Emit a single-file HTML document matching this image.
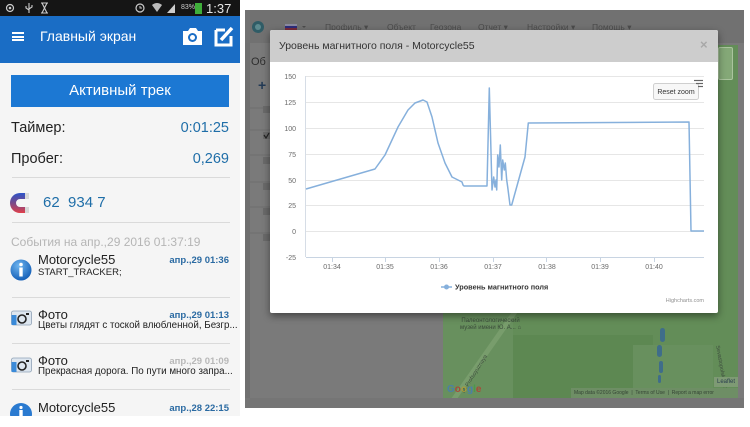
<!DOCTYPE html>
<html><head><meta charset="utf-8">
<style>
*{margin:0;padding:0;box-sizing:border-box}
html,body{width:750px;height:427px;overflow:hidden;background:#fff;font-family:"Liberation Sans","DejaVu Sans",sans-serif}
.a{position:absolute;white-space:nowrap}
.dv{position:absolute;left:12px;width:218px;height:1px;background:#dadada}
.nv{position:absolute;top:22px;font-size:8.5px;line-height:10px;color:#4b4b4b}
</style></head><body>

<!-- ============ PHONE ============ -->
<div class="a" style="left:0;top:0;width:240px;height:427px;background:#f5f5f5;overflow:hidden">
<div class="a" style="left:0;top:0;width:240px;height:16px;background:#151515"></div>
<svg class="a" style="left:0;top:0" width="240" height="16">
  <circle cx="10" cy="8" r="3.5" fill="none" stroke="#ccc" stroke-width="1.2"/><circle cx="10" cy="8" r="1.3" fill="#ccc"/>
  <path d="M29 3 V13 M26 6 V8 L29 10 M32 5 V7 L29 9" stroke="#ccc" stroke-width="1.1" fill="none"/>
  <path d="M41 3 H48 M41 13 H48 M42 3 L47 13 M47 3 L42 13" stroke="#ccc" stroke-width="1.1" fill="none"/>
  <circle cx="140" cy="8" r="4" fill="none" stroke="#ccc" stroke-width="1.2"/><path d="M140 6 V8 H142" stroke="#ccc" stroke-width="1"/>
  <path d="M152 5 Q157 1 162 5 L157 12 Z" fill="#bbb"/>
  <path d="M167 13 L175 4 V13 Z" fill="#ccc"/>
  <rect x="195" y="3" width="7" height="11" fill="#3fae3a"/>
</svg>
<div class="a" style="left:181px;top:4px;font-size:7px;line-height:8px;color:#ccc">83%</div>
<div class="a" style="left:206px;top:1px;font-size:13px;line-height:15px;color:#e6e6e6">1:37</div>

<div class="a" style="left:0;top:16px;width:240px;height:47px;background:#1a6dc5"></div>
<div class="a" style="left:12px;top:32px;width:12px;height:2px;background:#fff"></div>
<div class="a" style="left:12px;top:35.5px;width:12px;height:2px;background:#fff"></div>
<div class="a" style="left:12px;top:39px;width:12px;height:2px;background:#fff"></div>
<div class="a" style="left:40px;top:28px;font-size:14px;line-height:17px;color:#fff">Главный экран</div>
<svg class="a" style="left:180px;top:24px" width="56" height="24">
  <path d="M3 7 H8 L10 4 H16 L18 7 H22 V21 H3 Z" fill="#fff"/>
  <circle cx="12.5" cy="13.5" r="4.5" fill="#1a6dc5"/><circle cx="12.5" cy="13.5" r="2.5" fill="#fff"/>
  <path d="M36 6 H45 M36 6 V21 H51 V12" stroke="#fff" stroke-width="3" fill="none"/>
  <path d="M41 16 L52 4" stroke="#fff" stroke-width="3.5"/>
</svg>

<div class="a" style="left:11px;top:75px;width:218px;height:32px;background:#1c78d3"></div>
<div class="a" style="left:11px;top:82px;width:218px;text-align:center;font-size:15px;line-height:18px;color:#fff">Активный трек</div>

<div class="a" style="left:11px;top:119px;font-size:14.5px;line-height:18px;color:#222">Таймер:</div>
<div class="a" style="right:11px;top:119px;font-size:14.5px;line-height:18px;color:#1f6ea8">0:01:25</div>
<div class="a" style="left:11px;top:150px;font-size:14.5px;line-height:18px;color:#222">Пробег:</div>
<div class="a" style="right:11px;top:150px;font-size:14.5px;line-height:18px;color:#1f6ea8">0,269</div>
<div class="dv" style="top:177px"></div>
<svg class="a" style="left:8px;top:191px" width="26" height="24">
  <defs><linearGradient id="mg" x1="0" y1="0" x2="0" y2="1"><stop offset="0" stop-color="#2d54c8"/><stop offset="0.5" stop-color="#7a4a8a"/><stop offset="1" stop-color="#e0404a"/></linearGradient></defs>
  <path d="M20 2 H12 A10 10 0 0 0 12 22 H20 V16 H12 A4 4 0 0 1 12 8 H20 Z" fill="url(#mg)"/>
  <rect x="17" y="2" width="4" height="6" fill="#d8d8d8"/><rect x="17" y="16" width="4" height="6" fill="#d8d8d8"/>
</svg>
<div class="a" style="left:43px;top:194px;font-size:15px;line-height:18px;color:#1f6ea8">62&nbsp;&nbsp;934 7</div>
<div class="dv" style="top:222px"></div>
<div class="a" style="left:11px;top:235px;font-size:12px;line-height:14px;color:#b5b5b5">События на апр.,29 2016 01:37:19</div>

<!-- item 1 -->
<svg class="a" style="left:9px;top:258px" width="24" height="24"><defs><radialGradient id="ig" cx="0.4" cy="0.3" r="0.7"><stop offset="0" stop-color="#6fb6f0"/><stop offset="1" stop-color="#1560b8"/></radialGradient></defs><circle cx="12" cy="12" r="10.5" fill="url(#ig)"/><circle cx="12" cy="6.5" r="1.8" fill="#fff"/><rect x="10.3" y="9.5" width="3.4" height="9" fill="#fff"/></svg>
<div class="a" style="left:38px;top:252px;font-size:13px;line-height:16px;color:#222">Motorcycle55</div>
<div class="a" style="left:38px;top:267px;font-size:9.5px;line-height:12px;color:#222">START_TRACKER;</div>
<div class="a" style="right:11px;top:255px;font-size:9.5px;line-height:11px;color:#2a6aa2;font-weight:bold">апр.,29 01:36</div>
<div class="dv" style="top:297px"></div>
<!-- item 2 -->
<svg class="a" style="left:11px;top:310px" width="22" height="16"><rect x="0.5" y="1" width="20" height="14" rx="2" fill="#dde6ef" stroke="#8fa2b6" stroke-width="0.8"/><rect x="0.5" y="5" width="5" height="10" fill="#3a8ad8"/><circle cx="11" cy="9" r="4" fill="none" stroke="#222" stroke-width="1.6"/><rect x="15" y="3" width="3" height="2" fill="#222"/></svg>
<div class="a" style="left:38px;top:307px;font-size:13px;line-height:16px;color:#222">Фото</div>
<div class="a" style="left:38px;top:320px;font-size:9.8px;line-height:12px;color:#222">Цветы глядят с тоской влюбленной, Безгр...</div>
<div class="a" style="right:11px;top:310px;font-size:9.5px;line-height:11px;color:#2a6aa2;font-weight:bold">апр.,29 01:13</div>
<div class="dv" style="top:343px"></div>
<!-- item 3 -->
<svg class="a" style="left:11px;top:357px" width="22" height="16"><rect x="0.5" y="1" width="20" height="14" rx="2" fill="#dde6ef" stroke="#8fa2b6" stroke-width="0.8"/><rect x="0.5" y="5" width="5" height="10" fill="#3a8ad8"/><circle cx="11" cy="9" r="4" fill="none" stroke="#222" stroke-width="1.6"/><rect x="15" y="3" width="3" height="2" fill="#222"/></svg>
<div class="a" style="left:38px;top:353px;font-size:13px;line-height:16px;color:#222">Фото</div>
<div class="a" style="left:38px;top:366px;font-size:9.8px;line-height:12px;color:#222">Прекрасная дорога. По пути много запра...</div>
<div class="a" style="right:11px;top:356px;font-size:9.5px;line-height:11px;color:#b8b8b8;font-weight:bold">апр.,29 01:09</div>
<div class="dv" style="top:389px"></div>
<!-- item 4 -->
<svg class="a" style="left:9px;top:401px" width="24" height="15"><circle cx="12" cy="13" r="11" fill="#2a7ad0"/><rect x="10.3" y="9" width="3.4" height="6" fill="#fff"/><circle cx="12" cy="6.5" r="1.6" fill="#fff"/></svg>
<div class="a" style="left:38px;top:400px;font-size:13px;line-height:16px;color:#222">Motorcycle55</div>
<div class="a" style="right:11px;top:403px;font-size:9.5px;line-height:11px;color:#2a6aa2;font-weight:bold">апр.,28 22:15</div>
<div class="a" style="left:0;top:416px;width:240px;height:11px;background:#fff"></div>
</div>

<!-- ============ WEB ============ -->
<div class="a" style="left:245px;top:10px;width:499px;height:398px;background:#7a7a7a"></div>
<div class="a" style="left:245px;top:43px;width:5px;height:355px;background:#707070"></div>
<div class="a" style="left:245px;top:10px;width:499px;height:33px;background:#717171"></div>
<div class="a" style="left:245px;top:398px;width:499px;height:10px;background:#757575"></div>
<!-- navbar -->
<svg class="a" style="left:250px;top:19px" width="60" height="16">
  <circle cx="8" cy="8" r="6" fill="#2f5c66"/><circle cx="8" cy="8" r="3" fill="#5c8a8f"/>
  <rect x="35" y="5" width="12" height="2" fill="#8a8aa0"/><rect x="35" y="7" width="12" height="2" fill="#2c2c7a"/><rect x="35" y="9" width="12" height="2" fill="#7a2a3a"/>
  <path d="M52 7 L56 7 L54 9 Z" fill="#4b4b4b"/>
</svg>
<div class="nv" style="left:325px">Профиль ▾</div>
<div class="nv" style="left:387px">Объект</div>
<div class="nv" style="left:430px">Геозона</div>
<div class="nv" style="left:478px">Отчет ▾</div>
<div class="nv" style="left:527px">Настройки ▾</div>
<div class="nv" style="left:592px">Помощь ▾</div>
<!-- underlying left panel -->
<div class="a" style="left:251px;top:56px;font-size:11px;line-height:13px;color:#2e2e2e">Об</div>
<div class="a" style="left:258px;top:77px;font-size:14px;line-height:16px;color:#233a55;font-weight:bold">+</div>
<svg class="a" style="left:250px;top:100px" width="20" height="150">
  <g stroke="#6e6e6e" stroke-width="1"><line x1="0" y1="8" x2="20" y2="8"/><line x1="0" y1="30" x2="20" y2="30"/><line x1="0" y1="55" x2="20" y2="55"/><line x1="0" y1="82" x2="20" y2="82"/><line x1="0" y1="107" x2="20" y2="107"/><line x1="0" y1="133" x2="20" y2="133"/></g>
  <g fill="#6a6a6a"><rect x="13" y="6" width="7" height="7"/><rect x="13" y="32" width="7" height="7"/><rect x="13" y="57" width="7" height="7"/><rect x="13" y="83" width="7" height="7"/><rect x="13" y="108" width="7" height="7"/><rect x="13" y="134" width="7" height="7"/></g>
  <path d="M14 35 L16 38 L19 33" stroke="#222" stroke-width="1.2" fill="none"/>
</svg>
<!-- map -->
<div class="a" style="left:443px;top:45px;width:295px;height:353px;background:#638d58;overflow:hidden">
  <div class="a" style="left:70px;top:290px;width:140px;height:63px;background:#5d8852"></div>
  <div class="a" style="left:190px;top:300px;width:80px;height:53px;background:#68905e"></div>
  <div class="a" style="left:0;top:268px;width:70px;height:85px;background:#68905e"></div>
  <div class="a" style="left:-20px;top:310px;width:120px;height:5px;background:#789d6c;transform:rotate(-55deg)"></div>
  <div class="a" style="left:217px;top:283px;width:5px;height:14px;background:#3f6d8a;border-radius:3px"></div>
  <div class="a" style="left:214px;top:300px;width:5px;height:12px;background:#3f6d8a;border-radius:3px"></div>
  <div class="a" style="left:216px;top:316px;width:4px;height:12px;background:#3f6d8a;border-radius:3px"></div>
  <div class="a" style="left:215px;top:330px;width:3px;height:8px;background:#3f6d8a;border-radius:2px"></div>
  <div class="a" style="left:275px;top:2px;width:15px;height:33px;background:#84a877;border:1px solid #aac49e;border-radius:2px"></div>
  <div class="a" style="left:17px;top:273px;font-size:6px;line-height:7px;color:#3a4a3a;text-align:center">Палеонтологический<br>музей имени Ю. А... ⌂</div>
  <div class="a" style="left:10px;top:326px;font-size:5.5px;color:#3e4e3e;transform:rotate(-58deg)">ul. Profsoyuznaya</div>
  <div class="a" style="left:277px;top:300px;font-size:5.5px;color:#3e4e3e;transform:rotate(80deg);transform-origin:left top">Sevastopolskiy pr.</div>
  <div class="a" style="left:4px;top:339px;font-size:10px;line-height:11px;font-weight:bold;color:#4a7fa8">G<span style="color:#a84a3a">o</span><span style="color:#a89a3a">o</span>g<span style="color:#4a9a4a">l</span><span style="color:#a84a3a">e</span></div>
  <div class="a" style="left:271px;top:332px;width:24px;height:10px;background:#7e9a74;font-size:6px;line-height:10px;color:#2a3e4e;text-align:center">Leaflet</div>
  <div class="a" style="left:128px;top:343px;width:167px;height:10px;background:#6e8e65;font-size:5px;line-height:10px;color:#344434;padding-left:3px">Map data ©2016 Google&nbsp; | &nbsp;Terms of Use&nbsp; | &nbsp;Report a map error</div>
</div>

<!-- modal -->
<div class="a" style="left:270px;top:30px;width:448px;height:283px;background:#fff;box-shadow:0 3px 8px rgba(0,0,0,.45);border-radius:2px;overflow:hidden">
  <div class="a" style="left:0;top:0;width:448px;height:32px;background:#cdcdcd"></div>
  <div class="a" style="left:9px;top:10px;font-size:10.5px;line-height:13px;color:#333">Уровень магнитного поля - Motorcycle55</div>
  <div class="a" style="left:430px;top:8px;font-size:13px;line-height:14px;color:#a8a8a8;font-weight:bold">×</div>
</div>

<svg class="a" style="left:0;top:0" width="750" height="427" font-family="Liberation Sans, DejaVu Sans, sans-serif">
  <g stroke="#e6e6e6" stroke-width="1">
    <line x1="306" y1="76.5" x2="704" y2="76.5"/>
    <line x1="306" y1="102.5" x2="704" y2="102.5"/>
    <line x1="306" y1="128.5" x2="704" y2="128.5"/>
    <line x1="306" y1="154.5" x2="704" y2="154.5"/>
    <line x1="306" y1="180.5" x2="704" y2="180.5"/>
    <line x1="306" y1="205.5" x2="704" y2="205.5"/>
    <line x1="306" y1="231.5" x2="704" y2="231.5"/>
  </g>
  <line x1="306" y1="257.5" x2="704" y2="257.5" stroke="#c8d4e2" stroke-width="1"/>
  <line x1="305.5" y1="76" x2="305.5" y2="257" stroke="#d6dde6" stroke-width="1"/>
  <g stroke="#c8d4e2" stroke-width="1">
    <line x1="332.5" y1="257" x2="332.5" y2="262"/><line x1="385.5" y1="257" x2="385.5" y2="262"/>
    <line x1="439.5" y1="257" x2="439.5" y2="262"/><line x1="493.5" y1="257" x2="493.5" y2="262"/>
    <line x1="546.5" y1="257" x2="546.5" y2="262"/><line x1="600.5" y1="257" x2="600.5" y2="262"/>
    <line x1="654.5" y1="257" x2="654.5" y2="262"/>
  </g>
  <g font-size="7" fill="#6a6a6a" text-anchor="end">
    <text x="296" y="79">150</text><text x="296" y="105">125</text><text x="296" y="131">100</text>
    <text x="296" y="157">75</text><text x="296" y="183">50</text><text x="296" y="208">25</text>
    <text x="296" y="234">0</text><text x="296" y="260">-25</text>
  </g>
  <g font-size="7" fill="#6a6a6a" text-anchor="middle">
    <text x="332" y="269">01:34</text><text x="385" y="269">01:35</text><text x="439" y="269">01:36</text>
    <text x="493" y="269">01:37</text><text x="547" y="269">01:38</text><text x="600" y="269">01:39</text>
    <text x="654" y="269">01:40</text>
  </g>
  <polyline fill="none" stroke="#86b0dc" stroke-width="1.5" stroke-linejoin="round" points="306,189 375,169 385,155 398,127 408,110 415,103 423,100 427,102 432,117 438,143 445,163 452,177 462,182 463,185 464,186 487,186 489.3,88 492,190 493.7,177 495,187 496,180 496.7,190 497.7,155 499,167 500.3,145 501.7,180 502.7,160 504.3,170 505.3,163 506.7,180 507.7,187 510,205 511.7,205 525,157 528.3,123 689,122 691,231 704,231"/>
  <rect x="653.5" y="83.5" width="45" height="16" rx="2" fill="#f7f7f7" stroke="#cfcfcf"/>
  <text x="676" y="94" font-size="7" fill="#333" text-anchor="middle">Reset zoom</text>
  <g stroke="#666" stroke-width="1.2"><line x1="694" y1="80.5" x2="703" y2="80.5"/><line x1="696" y1="83.5" x2="703" y2="83.5"/><line x1="698" y1="86.5" x2="703" y2="86.5"/></g>
  <line x1="441" y1="287" x2="452" y2="287" stroke="#86b0dc" stroke-width="1.5"/>
  <circle cx="446.5" cy="287" r="2.5" fill="#86b0dc"/>
  <text x="455" y="289.5" font-size="7.3" font-weight="bold" fill="#333">Уровень магнитного поля</text>
  <text x="704" y="302" font-size="5.5" fill="#909090" text-anchor="end">Highcharts.com</text>
</svg>
</body></html>
